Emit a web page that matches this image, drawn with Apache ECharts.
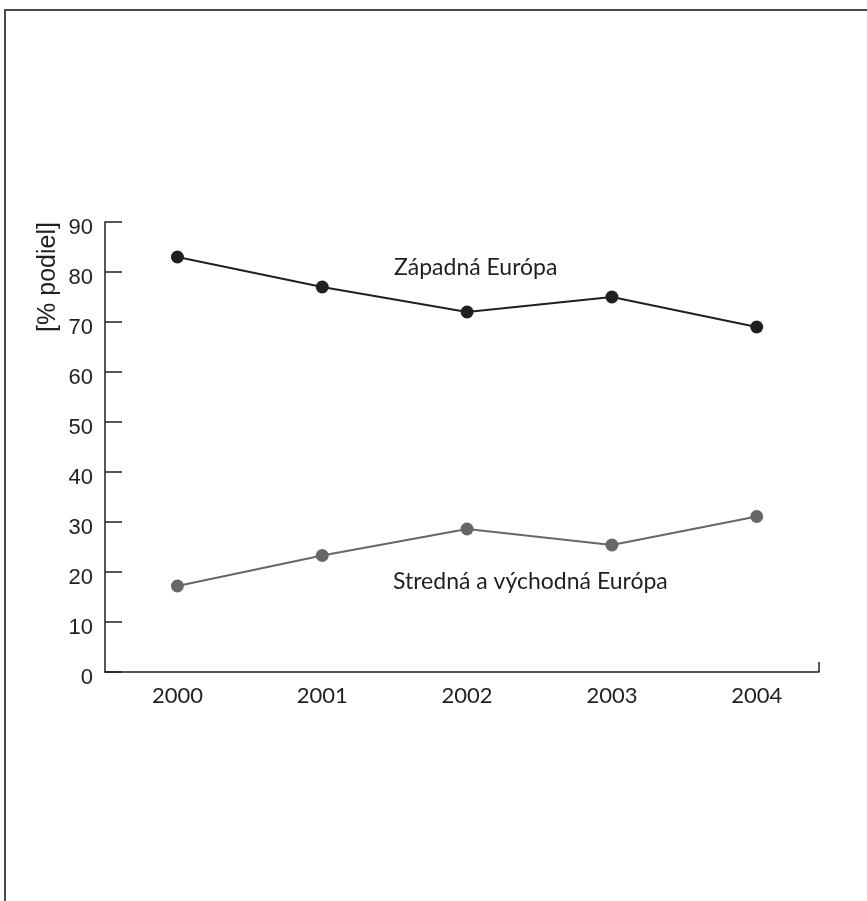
<!DOCTYPE html>
<html lang="sk">
<head>
    <meta charset="UTF-8">
    <title>Podiel</title>
    <script src="https://cdn.jsdelivr.net/npm/echarts@6/dist/echarts.min.js"></script>
    <style>
      html, body { margin: 0; padding: 0; background: #fff; }
      #chart { width: 867px; height: 901px; }
    </style>
</head>
<body>
  <div id="chart"></div>
  <script type="text/javascript">
    // data
    var years = ['2000', '2001', '2002', '2003', '2004'];
    var zapadna = [83, 77, 72, 75, 69];
    var stredna = [17.2, 23.3, 28.6, 25.4, 31.1];
    var yTicks = [0, 10, 20, 30, 40, 50, 60, 70, 80, 90];

    var myChart = echarts.init(document.getElementById('chart'), null, { renderer: 'canvas' });

    function toPoints(arr) {
      return arr.map(function (v, i) { return [i, v]; });
    }

    var option = {
      animation: false,
      grid: { left: 105, right: 48, top: 222, bottom: 229 },
      xAxis: {
        type: 'value',
        min: -0.5,
        max: 4.43,
        splitLine: { show: false },
        axisLine: { show: true, onZero: false, lineStyle: { color: '#231f20', width: 1.5 } },
        axisTick: {
          show: true,
          inside: true,
          length: 10,
          customValues: [4.43],
          lineStyle: { color: '#231f20', width: 1.5 }
        },
        axisLabel: {
          customValues: [0, 1, 2, 3, 4],
          formatter: function (v) { return years[Math.round(v)]; },
          fontFamily: 'Lato',
          fontSize: 22,
          color: '#231f20',
          margin: 13
        }
      },
      yAxis: {
        type: 'value',
        min: yTicks[0],
        max: yTicks[yTicks.length - 1],
        interval: 10,
        splitLine: { show: false },
        axisLine: { show: true, onZero: false, lineStyle: { color: '#231f20', width: 1.5 } },
        axisTick: { show: true, inside: true, length: 17, lineStyle: { color: '#231f20', width: 1.5 } },
        axisLabel: {
          fontFamily: 'Liberation Sans',
          fontSize: 22,
          color: '#231f20',
          margin: 12,
          verticalAlign: 'top',
          lineHeight: 11
        }
      },
      graphic: [
        {
          type: 'polyline',
          shape: { points: [[5, 901], [5, 10], [867, 10]] },
          style: { stroke: '#4a4a4a', lineWidth: 2, fill: null }
        },
        {
          type: 'text',
          x: 48,
          y: 277,
          rotation: Math.PI / 2,
          style: {
            text: '[% podiel]',
            font: '25px "Liberation Sans"',
            fill: '#231f20',
            align: 'center',
            verticalAlign: 'middle'
          }
        },
        {
          type: 'text',
          x: 394,
          y: 268,
          style: {
            text: 'Západná Európa',
            font: '23px Lato',
            fill: '#231f20',
            verticalAlign: 'middle'
          }
        },
        {
          type: 'text',
          x: 393,
          y: 582,
          style: {
            text: 'Stredná a východná Európa',
            font: '23px Lato',
            fill: '#231f20',
            verticalAlign: 'middle'
          }
        }
      ],
      series: [
        {
          name: 'Západná Európa',
          type: 'line',
          data: toPoints(zapadna),
          symbol: 'circle',
          symbolSize: 13,
          lineStyle: { color: '#231f20', width: 2 },
          itemStyle: { color: '#231f20' }
        },
        {
          name: 'Stredná a východná Európa',
          type: 'line',
          data: toPoints(stredna),
          symbol: 'circle',
          symbolSize: 13,
          lineStyle: { color: '#676767', width: 2 },
          itemStyle: { color: '#676767' }
        }
      ]
    };

    myChart.setOption(option);
    window.addEventListener('resize', myChart.resize);
  </script>
</body>
</html>
